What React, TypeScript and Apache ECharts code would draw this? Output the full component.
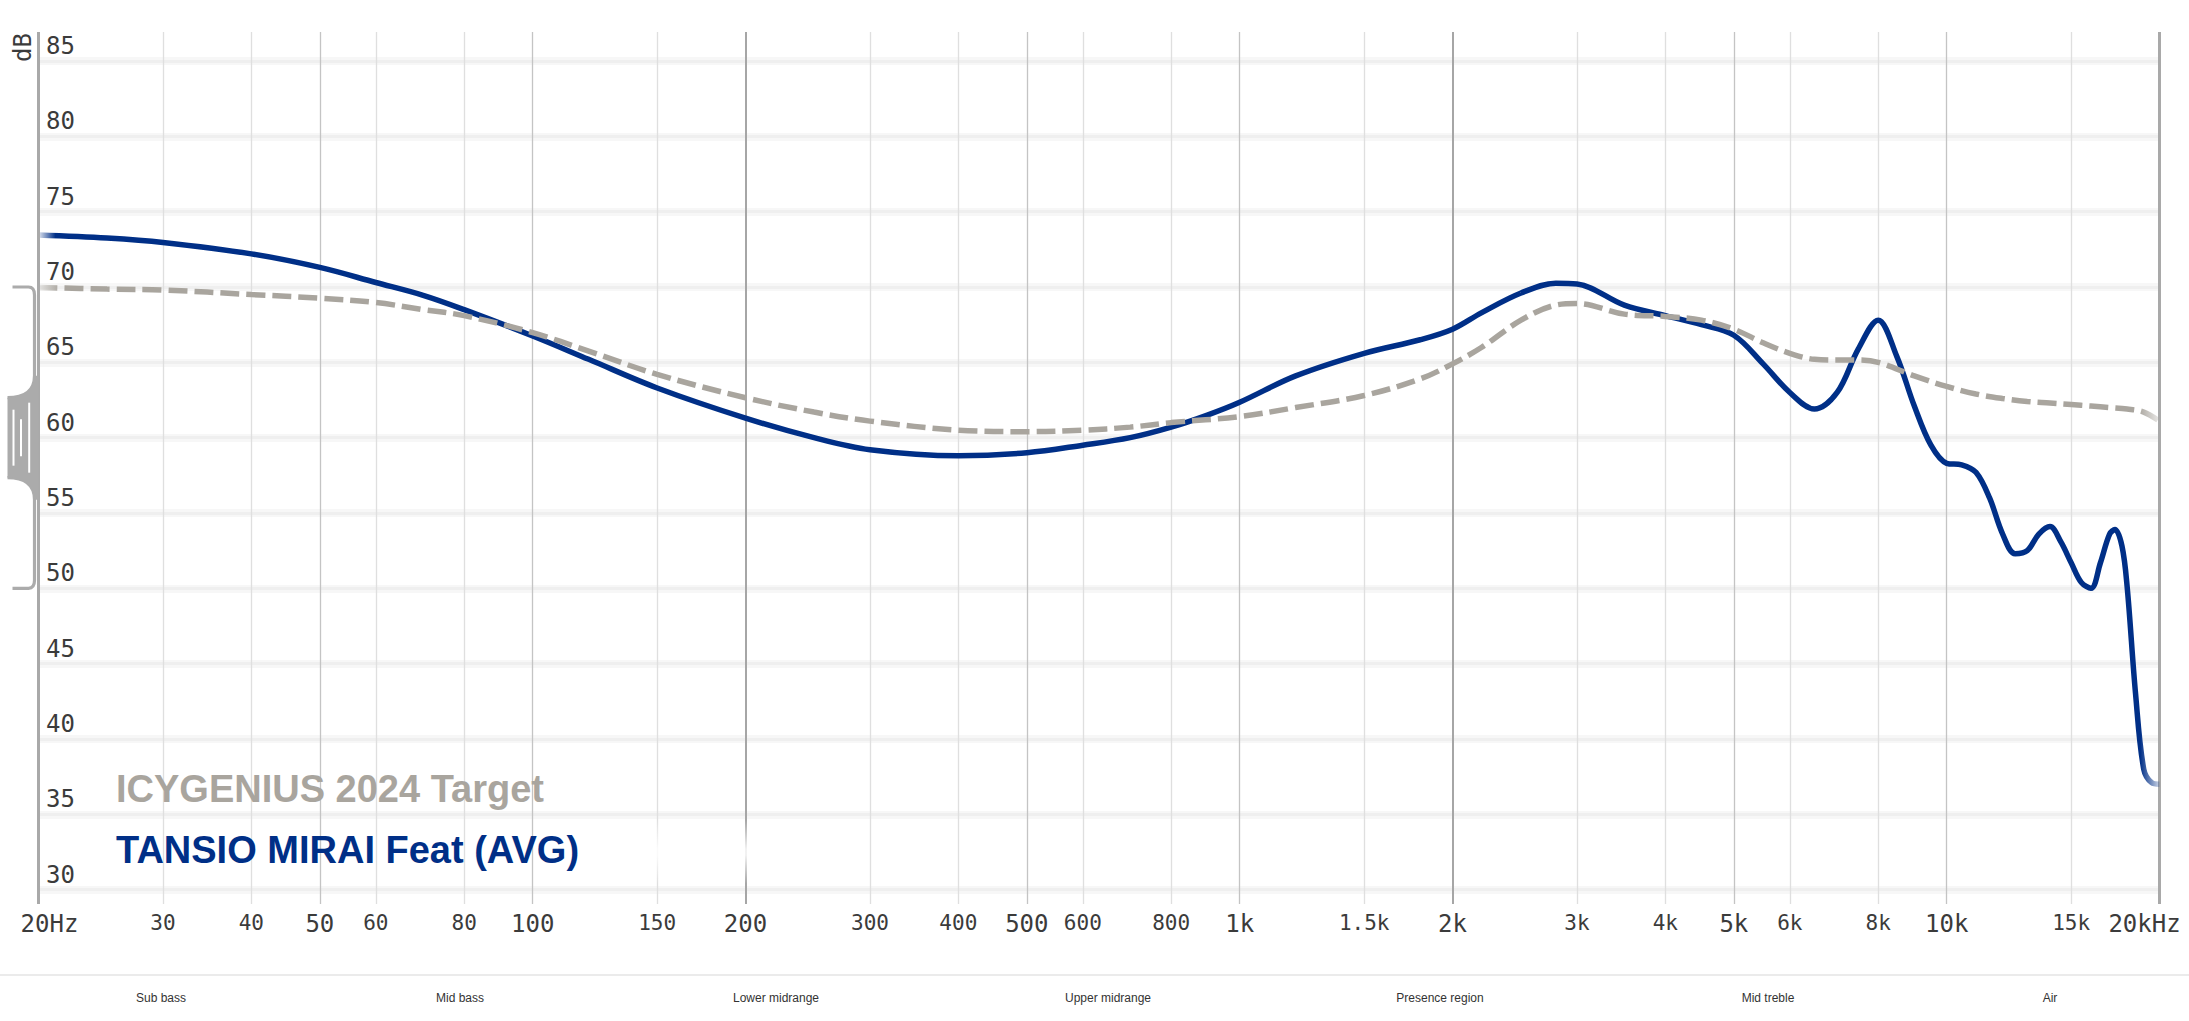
import React, { useEffect, useRef } from "react";
import * as echarts from "echarts";

// ---------- data ----------
const measuredName = "TANSIO MIRAI Feat (AVG)";
const targetName = "ICYGENIUS 2024 Target";

const measuredFreq = [
  20, 25, 30, 40, 50, 60, 70, 80, 100, 120, 150, 200, 250, 300, 400, 500, 600, 700, 800, 900,
  1000, 1200, 1500, 1800, 2000, 2200, 2500, 2800, 3000, 3500, 4000, 4500, 5000, 5500, 6000, 6500,
  7000, 7500, 8000, 8500, 9000, 9500, 10000, 10500, 11000, 11500, 12000, 12500, 13000, 13500,
  14000, 14500, 15000, 15500, 16000, 16500, 17000, 17300, 17700, 18000, 18500, 19000, 19500, 20000,
];
const measuredDb = [
  73.45, 73.25, 72.96, 72.2, 71.3, 70.3, 69.45, 68.5, 66.75, 65.2, 63.3, 61.3, 60.0, 59.2, 58.8, 59.0, 59.5, 60.0, 60.7, 61.5,
  62.35, 64.1, 65.6, 66.5, 67.2, 68.3, 69.6, 70.25, 70.2, 68.8, 68.1, 67.5, 66.8, 64.9, 63.0, 61.9,
  63.0, 65.9, 67.8, 65.4, 62.1, 59.5, 58.3, 58.2, 57.7, 56.0, 53.6, 52.3, 52.5, 53.6,
  54.1, 53.1, 51.7, 50.4, 50.0, 51.7, 53.6, 53.9, 52.8, 50.1, 43.0, 38.0, 37.1, 37.0,
];

const targetFreq = [
  20, 25, 30, 40, 50, 60, 70, 80, 100, 120, 150, 200, 250, 300, 400, 500, 600, 700, 800, 1000,
  1200, 1500, 1800, 2000, 2200, 2500, 2800, 3000, 3500, 4000, 4500, 5000, 5500, 6000, 6500, 7000,
  7500, 8000, 9000, 10000, 11000, 12000, 13000, 14000, 15000, 16000, 17000, 18000, 19000, 20000,
];
const targetDb = [
  69.97, 69.86, 69.8, 69.5, 69.26, 68.97, 68.5, 68.1, 66.97, 65.75, 64.2, 62.65, 61.7, 61.1, 60.5, 60.4, 60.5, 60.7, 61.0, 61.4,
  62.0, 62.8, 63.9, 64.9, 66.0, 67.8, 68.8, 68.9, 68.2, 68.05, 67.8, 67.2, 66.3, 65.6, 65.2, 65.15,
  65.15, 65.0, 64.1, 63.4, 62.9, 62.6, 62.4, 62.3, 62.2, 62.1, 62.0, 61.9, 61.7, 61.1,
];

const freqTicks = [
  20, 30, 40, 50, 60, 80, 100, 150, 200, 300, 400, 500, 600, 800, 1000, 1500, 2000, 3000, 4000,
  5000, 6000, 8000, 10000, 15000, 20000,
];
const freqTickLabels = [
  "20Hz", "30", "40", "50", "60", "80", "100", "150", "200", "300", "400", "500", "600", "800",
  "1k", "1.5k", "2k", "3k", "4k", "5k", "6k", "8k", "10k", "15k", "20kHz",
];
const majorFreqs = [20, 50, 100, 200, 500, 1000, 2000, 5000, 10000, 20000];
const strongFreqs = [200, 2000];
const edgeFreqs = [20, 20000];

const dbTicks = [30, 35, 40, 45, 50, 55, 60, 65, 70, 75, 80, 85];
const bandLabels = ["Sub bass", "Mid bass", "Lower midrange", "Upper midrange", "Presence region", "Mid treble", "Air"];

// ---------- layout ----------
const W = 2189;
const H = 1021;
const PLOT_LEFT = 38.5;
const PLOT_RIGHT = 2159.5;
const PLOT_TOP = 32;
const PLOT_BOTTOM = 904;
const Y_MIN = 29.05;
const Y_MAX = 86.925;
const bandCenters = [161, 460, 776, 1108, 1440, 1768, 2050];

const MONO = "'DejaVu Sans Mono', monospace";
const SANS = "'Liberation Sans', Arial, sans-serif";
const BLUE = "#002f87";
const GRAY = "#a9a59e";

function vLineStyle(f: number) {
  if (edgeFreqs.includes(f)) return { color: "#a9a9a9", width: 3, type: "solid" as const };
  if (strongFreqs.includes(f)) return { color: "#a6a6a6", width: 2, type: "solid" as const };
  if (majorFreqs.includes(f)) return { color: "#c4c4c4", width: 1.3, type: "solid" as const };
  return { color: "#dfdfdf", width: 1.3, type: "solid" as const };
}

function xLabelPadding(i: number) {
  if (i === 0) return [0, 0, 0, 22];
  if (i === freqTicks.length - 1) return [0, 30, 0, 0];
  return [0, 0, 0, 0];
}

export default function App() {
  const ref = useRef<HTMLDivElement>(null);

  useEffect(() => {
    document.body.style.margin = "0";
    if (!ref.current) return;
    const chart = echarts.init(ref.current, undefined, { renderer: "svg", width: W, height: H });

    const measuredData = measuredFreq.map((f, i) => [f, measuredDb[i]]);
    const targetData = targetFreq.map((f, i) => [f, targetDb[i]]);

    const vLines = freqTicks.map((f, i) => {
      const major = majorFreqs.includes(f);
      return {
        xAxis: f,
        lineStyle: vLineStyle(f),
        label: {
          show: true,
          position: "start",
          distance: 8,
          formatter: freqTickLabels[i],
          fontFamily: MONO,
          fontSize: major ? 24 : 21,
          color: "#3b3b3b",
          padding: xLabelPadding(i),
        },
      };
    });

    // soft horizontal grid: wide faint band + narrower core
    const hBands = dbTicks.map((v) => ({
      yAxis: v,
      lineStyle: { color: "#f7f7f7", width: 8, type: "solid" as const },
      label: { show: false },
    }));
    const hLines = dbTicks.map((v) => ({
      yAxis: v,
      lineStyle: { color: "#efefef", width: 3, type: "solid" as const },
      label: {
        show: true,
        position: "insideStartTop",
        distance: [7.5, 3],
        formatter: String(v),
        fontFamily: MONO,
        fontSize: 24,
        color: "#3b3b3b",
      },
    }));

    const option: any = {
      animation: false,
      backgroundColor: "#ffffff",
      grid: {
        left: PLOT_LEFT,
        right: W - PLOT_RIGHT,
        top: PLOT_TOP,
        bottom: H - PLOT_BOTTOM,
        containLabel: false,
      },
      xAxis: {
        type: "log",
        logBase: 10,
        min: 20,
        max: 20000,
        axisLine: { show: false },
        axisTick: { show: false },
        axisLabel: { show: false },
        splitLine: { show: false },
      },
      yAxis: {
        type: "value",
        min: Y_MIN,
        max: Y_MAX,
        axisLine: { show: false },
        axisTick: { show: false },
        axisLabel: { show: false },
        splitLine: { show: false },
      },
      series: [
        {
          name: measuredName,
          type: "line",
          z: 3,
          smooth: 0.35,
          showSymbol: false,
          silent: true,
          data: measuredData,
          lineStyle: {
            width: 5.5,
            color: new echarts.graphic.LinearGradient(0, 0, 1, 0, [
              { offset: 0, color: "rgba(0,47,135,0.12)" },
              { offset: 0.008, color: BLUE },
              { offset: 0.991, color: BLUE },
              { offset: 1, color: "rgba(0,47,135,0.2)" },
            ]),
          },
        },
        {
          name: targetName,
          type: "line",
          z: 4,
          smooth: 0.35,
          showSymbol: false,
          silent: true,
          data: targetData,
          lineStyle: {
            width: 5.5,
            type: [19, 7],
            cap: "butt",
            color: new echarts.graphic.LinearGradient(0, 0, 1, 0, [
              { offset: 0, color: "rgba(169,165,158,0.15)" },
              { offset: 0.01, color: GRAY },
              { offset: 0.99, color: GRAY },
              { offset: 1, color: "rgba(169,165,158,0.25)" },
            ]),
          },
          markLine: {
            silent: true,
            z: 1,
            symbol: ["none", "none"],
            animation: false,
            data: [...hBands, ...hLines, ...vLines],
          },
        },
      ],
    };
    chart.setOption(option);

    // decorations computed from the axes
    const x0 = chart.convertToPixel({ xAxisIndex: 0 }, 20) as number;
    const yT = chart.convertToPixel({ yAxisIndex: 0 }, 70) as number;
    const yB = chart.convertToPixel({ yAxisIndex: 0 }, 50) as number;
    const y35 = chart.convertToPixel({ yAxisIndex: 0 }, 35) as number;
    const y30 = chart.convertToPixel({ yAxisIndex: 0 }, 30) as number;
    const x150 = chart.convertToPixel({ xAxisIndex: 0 }, 150) as number;
    const x200 = chart.convertToPixel({ xAxisIndex: 0 }, 200) as number;
    const yc = (yT + yB) / 2;

    const strokeD =
      `M${x0 - 26} ${yT} L${x0 - 10} ${yT} Q${x0 - 4} ${yT} ${x0 - 4} ${yT + 8} L${x0 - 4} ${yc - 62} Q${x0 - 4} ${yc - 40} ${x0 - 31} ${yc - 40} ` +
      `M${x0 - 31} ${yc + 40} Q${x0 - 4} ${yc + 40} ${x0 - 4} ${yc + 62} L${x0 - 4} ${yB - 8} Q${x0 - 4} ${yB} ${x0 - 10} ${yB} L${x0 - 26} ${yB}`;
    const fillD =
      `M${x0 - 4} ${yc - 62} Q${x0 - 4} ${yc - 40} ${x0 - 31} ${yc - 40} L${x0 - 31} ${yc + 40} Q${x0 - 4} ${yc + 40} ${x0 - 4} ${yc + 62} L${x0} ${yc + 62} L${x0} ${yc - 62} Z`;
    echarts.graphic.registerShape("brkStroke", echarts.graphic.extendPath(strokeD, {}) as any);
    echarts.graphic.registerShape("brkFill", echarts.graphic.extendPath(fillD, {}) as any);

    const grips = [
      { dx: -25, h: 28 },
      { dx: -17.5, h: 18.5 },
      { dx: -9.3, h: 35 },
    ];

    chart.setOption({
      graphic: [
        // faint white haze right of the legend
        {
          type: "rect",
          z: 2,
          silent: true,
          shape: { x: x150 - 70, y: y35 + 6, width: x200 - x150 + 95, height: y30 - y35 - 12 },
          style: {
            fill: new echarts.graphic.LinearGradient(0, 0, 0, 1, [
              { offset: 0, color: "rgba(255,255,255,0)" },
              { offset: 0.45, color: "rgba(255,255,255,0.85)" },
              { offset: 0.55, color: "rgba(255,255,255,0.85)" },
              { offset: 1, color: "rgba(255,255,255,0)" },
            ]),
          },
        },
        // left axis line
        {
          type: "line",
          z: 10,
          shape: { x1: x0, y1: PLOT_TOP, x2: x0, y2: PLOT_BOTTOM },
          style: { stroke: "#a9a9a9", lineWidth: 3 },
        },
        { type: "brkStroke", z: 10, x: 0, y: 0, style: { stroke: "#ababab", lineWidth: 3.2, fill: "none" } },
        { type: "brkFill", z: 10, x: 0, y: 0, style: { fill: "#ababab", stroke: "none" } },
        ...grips.map((g) => ({
          type: "line",
          z: 11,
          shape: { x1: x0 + g.dx, y1: yc - g.h, x2: x0 + g.dx, y2: yc + g.h },
          style: { stroke: "#ffffff", lineWidth: 2 },
        })),
        {
          type: "text",
          z: 10,
          x: 22.5,
          y: 47.5,
          rotation: Math.PI / 2,
          style: {
            text: "dB",
            fontFamily: MONO,
            fontSize: 24,
            fill: "#3b3b3b",
            align: "center",
            verticalAlign: "middle",
          },
        },
        {
          type: "text",
          z: 10,
          x: 116,
          y: 789,
          style: {
            text: targetName,
            fontFamily: SANS,
            fontWeight: "bold",
            fontSize: 38,
            fill: GRAY,
            align: "left",
            verticalAlign: "middle",
          },
        },
        {
          type: "text",
          z: 10,
          x: 116,
          y: 850,
          style: {
            text: measuredName,
            fontFamily: SANS,
            fontWeight: "bold",
            fontSize: 38,
            fill: BLUE,
            align: "left",
            verticalAlign: "middle",
          },
        },
        {
          type: "line",
          z: 10,
          shape: { x1: 0, y1: 975, x2: W, y2: 975 },
          style: { stroke: "#e4e4e4", lineWidth: 1.5 },
        },
        ...bandLabels.map((t, i) => ({
          type: "text",
          z: 10,
          x: bandCenters[i],
          y: 997.5,
          style: {
            text: t,
            fontFamily: SANS,
            fontSize: 12,
            fill: "#333333",
            align: "center",
            verticalAlign: "middle",
          },
        })),
      ],
    });

    return () => {
      chart.dispose();
    };
  }, []);

  return <div ref={ref} style={{ width: W, height: H }} />;
}
